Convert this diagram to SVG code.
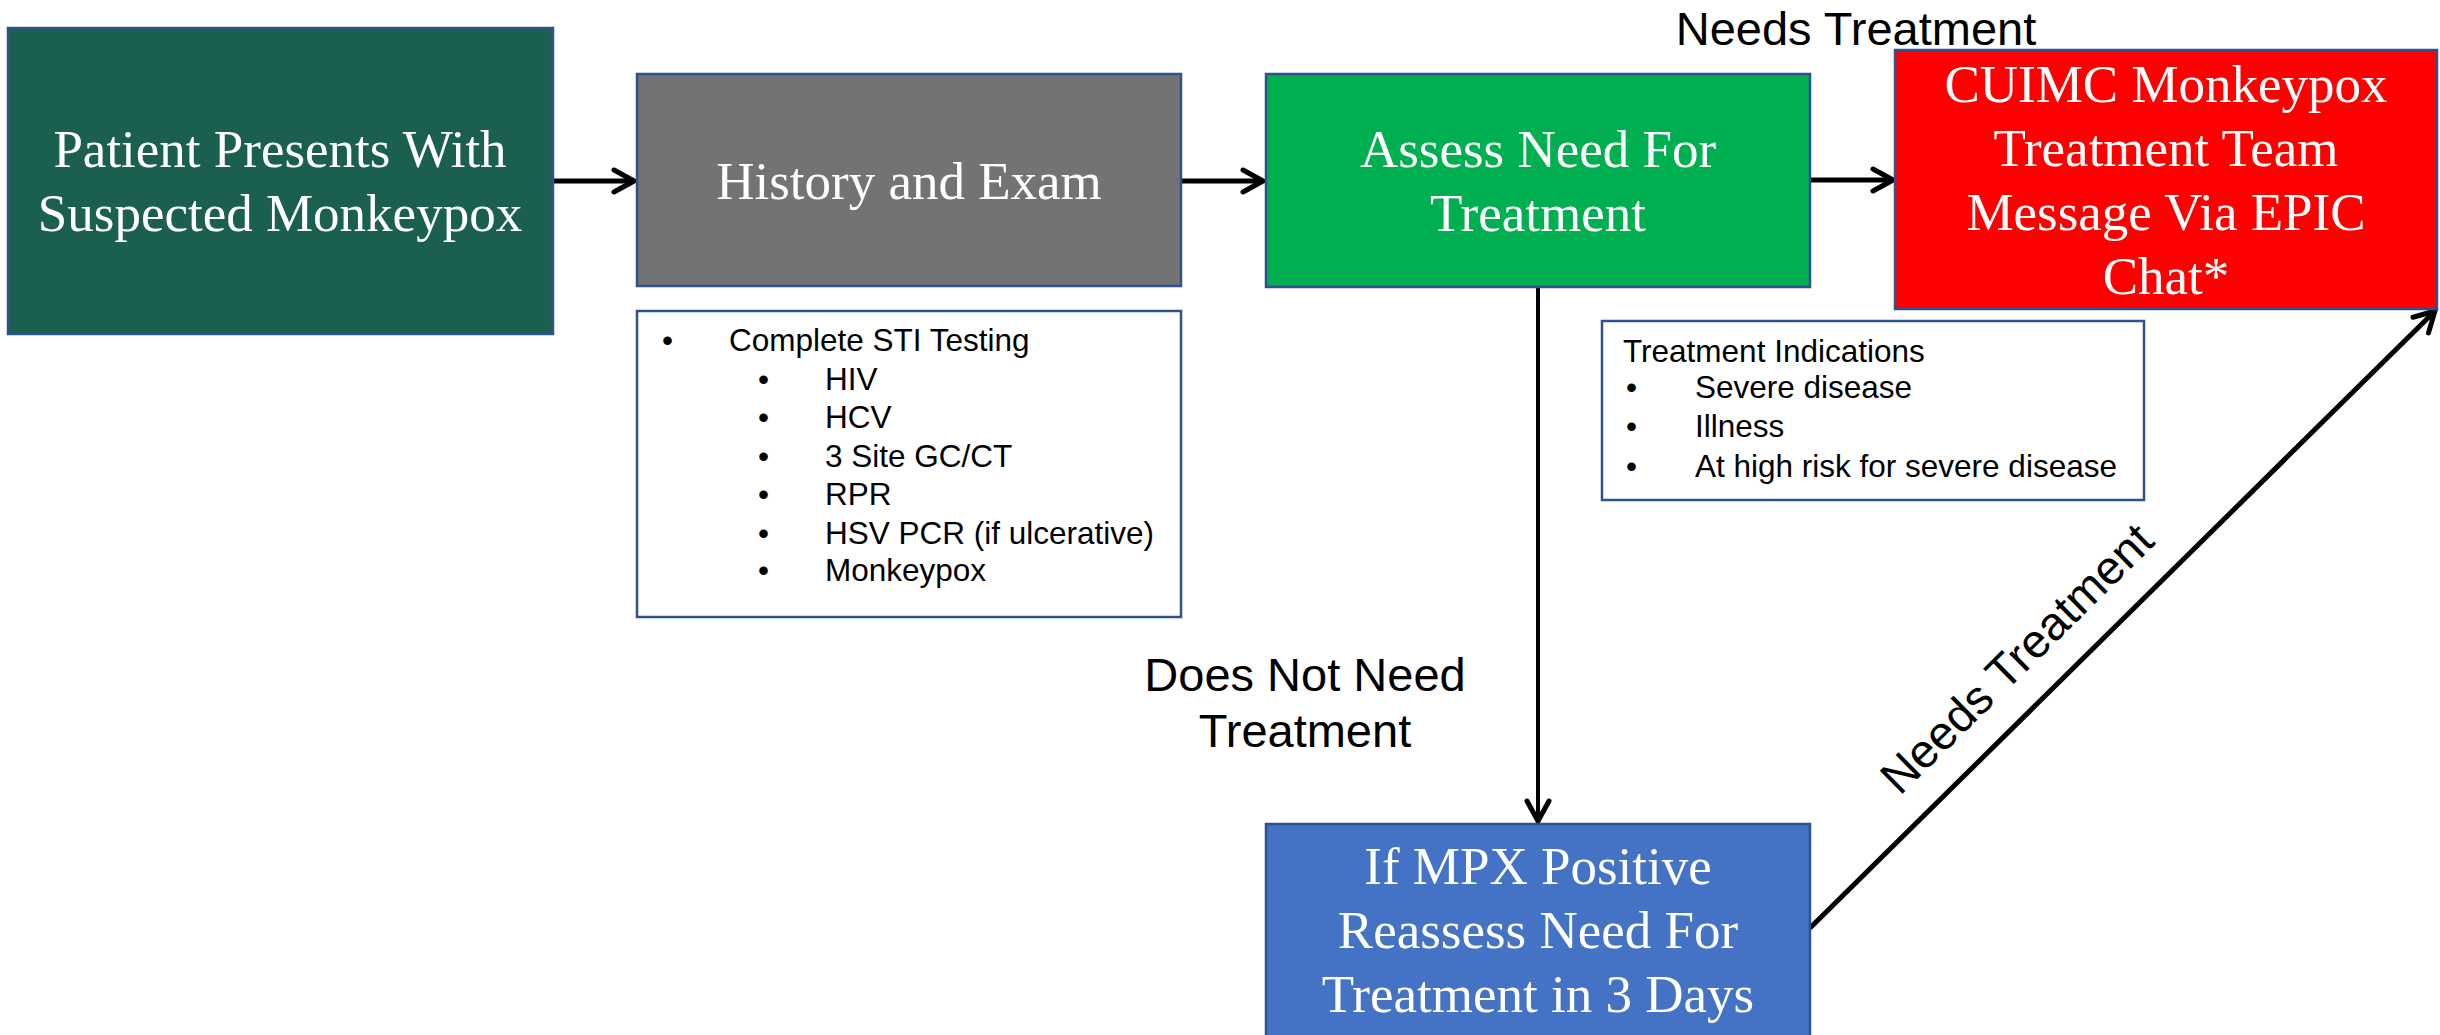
<svg xmlns="http://www.w3.org/2000/svg" width="2440" height="1035" viewBox="0 0 2440 1035">
<style>
.box{stroke:#2F528F;stroke-width:2.5}
.note{fill:#FFFFFF;stroke:#2F528F;stroke-width:2.5}
.t{font-family:"Liberation Serif","Times New Roman",serif;font-size:53px;fill:#FFFFFF;text-anchor:middle}
.s{font-family:"Liberation Sans",Arial,sans-serif;font-size:31.5px;fill:#000000}
.lbl{font-family:"Liberation Sans",Arial,sans-serif;font-size:47px;fill:#000000;text-anchor:middle}
.c{fill:none;stroke:#000000;stroke-width:5}
</style>
<defs>
<marker id="ah" markerUnits="userSpaceOnUse" viewBox="-24 -14 28 28" refX="0" refY="0" markerWidth="28" markerHeight="28" orient="auto">
<path d="M-20,-11 L0,0 L-20,11" fill="none" stroke="#000000" stroke-width="5" stroke-linecap="round" stroke-linejoin="miter"/>
</marker>
</defs>
<rect width="2440" height="1035" fill="#FFFFFF"/>

<g id="connectors">
<line class="c" x1="553" y1="181" x2="634" y2="181" marker-end="url(#ah)"/>
<line class="c" x1="1181" y1="181" x2="1263" y2="181" marker-end="url(#ah)"/>
<line class="c" x1="1810" y1="180" x2="1893" y2="180" marker-end="url(#ah)"/>
<line class="c" style="stroke-width:4" x1="1538" y1="287" x2="1538" y2="821" marker-end="url(#ah)"/>
<line class="c" x1="1810" y1="928" x2="2435" y2="311" marker-end="url(#ah)"/>
<text class="lbl" x="1856" y="45">Needs Treatment</text>
<text class="lbl" x="1305" y="691">Does Not Need</text>
<text class="lbl" x="1305" y="747">Treatment</text>
<text class="lbl" transform="translate(2028,670) rotate(-44.6)">Needs Treatment</text>
</g>

<g id="patient">
<rect class="box" x="8" y="28" width="545" height="306" fill="#1B5F51"/>
<text class="t" x="280" y="167">Patient Presents With</text>
<text class="t" x="280" y="231">Suspected Monkeypox</text>
</g>

<g id="history">
<rect class="box" x="637" y="74" width="544" height="212" fill="#737373"/>
<text class="t" x="909" y="199">History and Exam</text>
</g>

<g id="sti-testing">
<rect class="note" x="637" y="311" width="544" height="306"/>
<text class="s" x="662" y="351">•</text>
<text class="s" x="729" y="351">Complete STI Testing</text>
<text class="s" x="758" y="390">•</text><text class="s" x="825" y="390">HIV</text>
<text class="s" x="758" y="428">•</text><text class="s" x="825" y="428">HCV</text>
<text class="s" x="758" y="467">•</text><text class="s" x="825" y="467">3 Site GC/CT</text>
<text class="s" x="758" y="505">•</text><text class="s" x="825" y="505">RPR</text>
<text class="s" x="758" y="544">•</text><text class="s" x="825" y="544">HSV PCR (if ulcerative)</text>
<text class="s" x="758" y="581">•</text><text class="s" x="825" y="581">Monkeypox</text>
</g>

<g id="assess">
<rect class="box" x="1266" y="74" width="544" height="213" fill="#00B050"/>
<text class="t" x="1538" y="167">Assess Need For</text>
<text class="t" x="1538" y="231">Treatment</text>
</g>

<g id="treatment-indications">
<rect class="note" x="1602" y="321" width="542" height="179"/>
<text class="s" x="1623" y="362">Treatment Indications</text>
<text class="s" x="1626" y="398">•</text><text class="s" x="1695" y="398">Severe disease</text>
<text class="s" x="1626" y="437">•</text><text class="s" x="1695" y="437">Illness</text>
<text class="s" x="1626" y="477">•</text><text class="s" x="1695" y="477">At high risk for severe disease</text>
</g>

<g id="cuimc-team">
<rect class="box" x="1895" y="50" width="542" height="259" fill="#FF0000"/>
<text class="t" x="2166" y="102">CUIMC Monkeypox</text>
<text class="t" x="2166" y="166">Treatment Team</text>
<text class="t" x="2166" y="230">Message Via EPIC</text>
<text class="t" x="2166" y="294">Chat*</text>
</g>

<g id="reassess">
<rect class="box" x="1266" y="824" width="544" height="220" fill="#4472C4"/>
<text class="t" x="1538" y="884">If MPX Positive</text>
<text class="t" x="1538" y="948">Reassess Need For</text>
<text class="t" x="1538" y="1012">Treatment in 3 Days</text>
</g>
</svg>
